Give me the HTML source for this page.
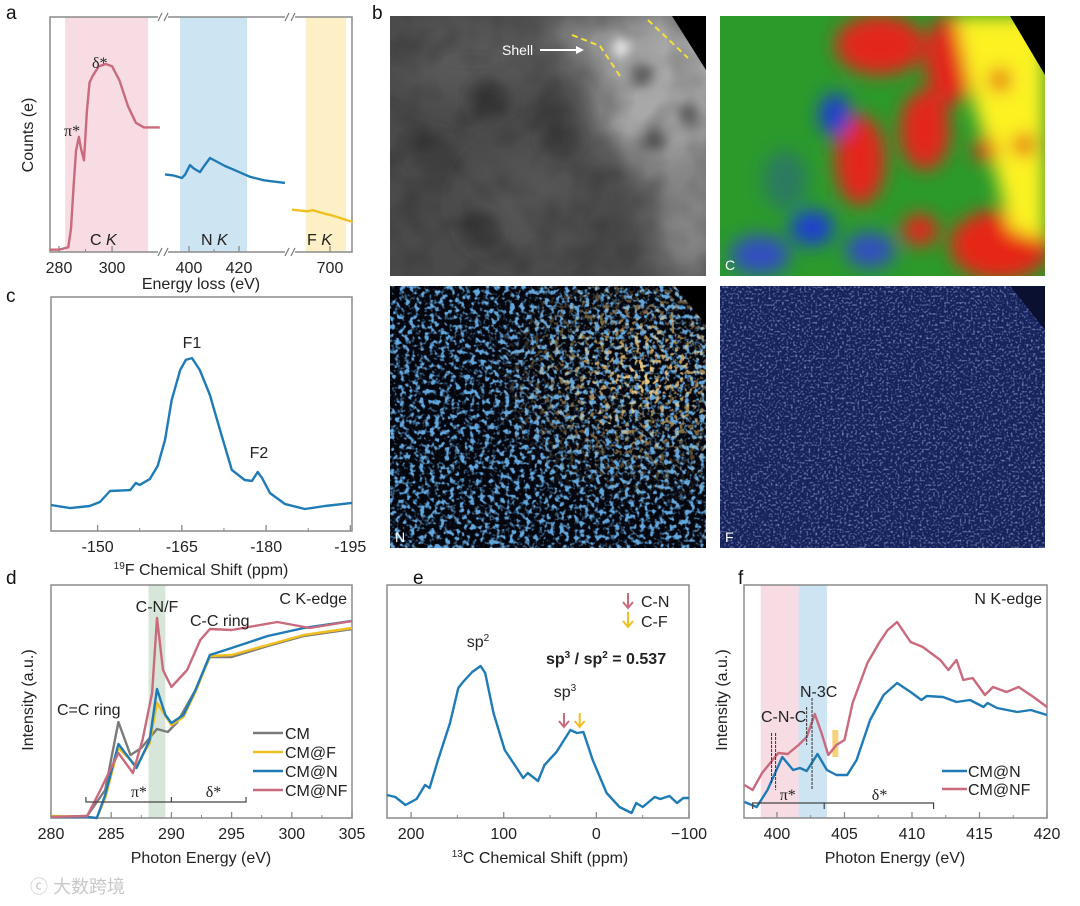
<!DOCTYPE html>
<html><head><meta charset="utf-8">
<style>
html,body{margin:0;padding:0;background:#fff;}
svg{display:block;font-family:"Liberation Sans","Noto Sans CJK SC",sans-serif;}
.t{fill:#222;font-size:16px;}
.pl{fill:#111;font-size:19px;}
</style></head>
<body>
<svg id="fig" width="1080" height="906" viewBox="0 0 1080 906" xmlns="http://www.w3.org/2000/svg">
<defs>
  <filter id="blur6"><feGaussianBlur stdDeviation="6"/></filter>
  <filter id="blur10"><feGaussianBlur stdDeviation="9"/></filter>
  <filter id="blur16"><feGaussianBlur stdDeviation="16"/></filter>
  <filter id="nBlue" x="0" y="0" width="100%" height="100%">
    <feTurbulence type="fractalNoise" baseFrequency="0.2" numOctaves="2" seed="3"/>
    <feColorMatrix type="matrix" values="0 0 0 0 0.12  0 0 0 0 0.38  0 0 0 0 0.72  5 0 0 0 -2.4"/>
  </filter>
  <filter id="nOrange" x="0" y="0" width="100%" height="100%">
    <feTurbulence type="fractalNoise" baseFrequency="0.2" numOctaves="2" seed="9"/>
    <feColorMatrix type="matrix" values="0 0 0 0 0.95  0 0 0 0 0.62  0 0 0 0 0.2  6 0 0 0 -3.1"/>
  </filter>
  <filter id="fNoise" x="0" y="0" width="100%" height="100%">
    <feTurbulence type="fractalNoise" baseFrequency="0.45" numOctaves="1" seed="5"/>
    <feColorMatrix type="matrix" values="0 0 0 0 0.3  0 0 0 0 0.38  0 0 0 0 0.65  3 0 0 0 -1.5"/>
  </filter>
  <filter id="grayNoise" x="0" y="0" width="100%" height="100%">
    <feTurbulence type="fractalNoise" baseFrequency="0.03" numOctaves="2" seed="2"/>
    <feColorMatrix type="matrix" values="0 0 0 0 0  0 0 0 0 0  0 0 0 0 0  1.2 0 0 0 -0.5"/>
  </filter>
  <radialGradient id="orMaskG" cx="0.8" cy="0.35" r="0.5">
    <stop offset="0" stop-color="#fff"/><stop offset="1" stop-color="#000"/>
  </radialGradient>
  <mask id="orMask"><rect x="390" y="286" width="316" height="262" fill="url(#orMaskG)"/></mask>
  <clipPath id="clipTL"><rect x="390" y="16" width="316" height="260"/></clipPath>
  <clipPath id="clipTR"><rect x="720" y="16" width="325" height="260"/></clipPath>
  <clipPath id="clipBL"><rect x="390" y="286" width="316" height="262"/></clipPath>
  <clipPath id="clipBR"><rect x="720" y="286" width="325" height="262"/></clipPath>
</defs>

<text class="pl" x="6" y="19">a</text>
<text class="pl" x="372" y="19">b</text>
<text class="pl" x="6" y="302">c</text>
<text class="pl" x="6" y="584">d</text>
<text class="pl" x="413" y="584">e</text>
<text class="pl" x="738" y="584">f</text>

<g clip-path="url(#clipTL)">
  <rect x="390" y="16" width="316" height="260" fill="#4a4a4a"/>
  <g filter="url(#blur16)">
    <ellipse cx="665" cy="90" rx="70" ry="85" fill="#a8a8a8"/>
    <ellipse cx="690" cy="210" rx="40" ry="70" fill="#858585"/>
    <ellipse cx="600" cy="40" rx="50" ry="30" fill="#959595"/>
    <ellipse cx="470" cy="60" rx="70" ry="40" fill="#585858"/>
    <ellipse cx="530" cy="200" rx="60" ry="50" fill="#555"/>
  </g>
  <g filter="url(#blur6)">
    <circle cx="622" cy="48" r="9" fill="#f4f4f4"/>
    <circle cx="642" cy="75" r="11" fill="#5a5a5a"/>
    <circle cx="690" cy="115" r="10" fill="#5a5a5a"/>
    <circle cx="655" cy="140" r="12" fill="#5d5d5d"/>
    <circle cx="490" cy="100" r="20" fill="#3a3a3a"/>
    <circle cx="430" cy="150" r="20" fill="#3c3c3c"/>
    <circle cx="560" cy="140" r="18" fill="#3d3d3d"/>
    <circle cx="480" cy="230" r="20" fill="#3a3a3a"/>
    <circle cx="610" cy="230" r="16" fill="#444"/>
  </g>
  <rect x="390" y="16" width="316" height="260" filter="url(#grayNoise)" opacity="0.35"/>
  <polygon points="672,16 706,16 706,70" fill="#000"/>
  <polyline points="572,35 600,46 620,76" fill="none" stroke="#f3e03a" stroke-width="2" stroke-dasharray="6,4"/>
  <line x1="648" y1="20" x2="688" y2="58" stroke="#f3e03a" stroke-width="2" stroke-dasharray="6,4"/>
  <text x="502" y="55" fill="#fff" font-size="14">Shell</text>
  <line x1="540" y1="50" x2="578" y2="50" stroke="#fff" stroke-width="2"/>
  <polygon points="584,50 576,46 576,54" fill="#fff"/>
</g>

<g clip-path="url(#clipTR)">
  <rect x="720" y="16" width="325" height="260" fill="#2b9a2b"/>
  <g filter="url(#blur10)">
    <ellipse cx="880" cy="45" rx="45" ry="30" fill="#e3261b"/>
    <ellipse cx="860" cy="160" rx="25" ry="45" fill="#e3261b"/>
    <ellipse cx="925" cy="130" rx="25" ry="40" fill="#e3261b"/>
    <ellipse cx="950" cy="60" rx="25" ry="45" fill="#e3261b"/>
    <ellipse cx="920" cy="230" rx="18" ry="16" fill="#e3261b"/>
    <ellipse cx="1000" cy="245" rx="50" ry="35" fill="#e62516"/>
    <polygon points="955,16 1045,16 1045,240 1010,230 995,170 975,110" fill="#fcf222"/>
    <ellipse cx="1000" cy="80" rx="10" ry="12" fill="#e0301a"/>
    <ellipse cx="1024" cy="145" rx="11" ry="11" fill="#e0301a"/>
    <ellipse cx="985" cy="150" rx="12" ry="12" fill="#e0301a"/>
    <ellipse cx="835" cy="115" rx="16" ry="22" fill="#1e3fd0"/>
    <ellipse cx="812" cy="228" rx="22" ry="18" fill="#1e3fd0"/>
    <ellipse cx="760" cy="255" rx="30" ry="20" fill="#3050c0"/>
    <ellipse cx="870" cy="250" rx="25" ry="18" fill="#3050c0"/>
    <ellipse cx="785" cy="180" rx="22" ry="30" fill="#2a7a60"/>
  </g>
  <polygon points="1010,16 1045,16 1045,75" fill="#000"/>
  <text x="725" y="270" fill="#fff" font-size="14">C</text>
</g>

<g clip-path="url(#clipBL)">
  <rect x="390" y="286" width="316" height="262" fill="#04060e"/>
  <rect x="390" y="286" width="316" height="262" filter="url(#nBlue)"/>
  <rect x="390" y="286" width="316" height="262" filter="url(#nOrange)" mask="url(#orMask)"/>
  <polygon points="675,286 706,286 706,325" fill="#000"/>
  <text x="395" y="542" fill="#fff" font-size="14">N</text>
</g>

<g clip-path="url(#clipBR)">
  <rect x="720" y="286" width="325" height="262" fill="#16225c"/>
  <rect x="720" y="286" width="325" height="262" filter="url(#fNoise)" opacity="0.85"/>
  <polygon points="1010,286 1045,286 1045,330" fill="#0a1030"/>
  <text x="725" y="542" fill="#fff" font-size="14">F</text>
</g>

<g id="charts"></g>

<text class="t" x="64" y="136" font-family="Liberation Serif,serif">π*</text>
<text class="t" x="92" y="68" font-family="Liberation Serif,serif">δ*</text>
<text class="t" x="90" y="245">C <tspan font-style="italic">K</tspan></text>
<text class="t" x="201" y="245">N <tspan font-style="italic">K</tspan></text>
<text class="t" x="307" y="245">F <tspan font-style="italic">K</tspan></text>
<text class="t" x="33" y="135" text-anchor="middle" transform="rotate(-90 33 135)">Counts (e)</text>
<text class="t" x="201" y="289" text-anchor="middle">Energy loss (eV)</text>

<text class="t" x="192" y="348" text-anchor="middle">F1</text>
<text class="t" x="259" y="458" text-anchor="middle">F2</text>
<text class="t" x="201" y="575" text-anchor="middle"><tspan font-size="10" dy="-6">19</tspan><tspan dy="6">F Chemical Shift (ppm)</tspan></text>

<text class="t" x="57" y="715">C=C ring</text>
<text class="t" x="157" y="612" text-anchor="middle">C-N/F</text>
<text class="t" x="190" y="626">C-C ring</text>
<text class="t" x="347" y="604" text-anchor="end">C K-edge</text>
<text class="t" x="33" y="700" text-anchor="middle" transform="rotate(-90 33 700)">Intensity (a.u.)</text>
<text class="t" x="201" y="863" text-anchor="middle">Photon Energy (eV)</text>

<text class="t" x="478" y="647" text-anchor="middle">sp<tspan font-size="10" dy="-6">2</tspan></text>
<text class="t" x="565" y="697" text-anchor="middle">sp<tspan font-size="10" dy="-6">3</tspan></text>
<text class="t" x="546" y="664" font-weight="bold" fill="#222">sp<tspan font-size="10" dy="-6">3</tspan><tspan dy="6"> / sp</tspan><tspan font-size="10" dy="-6">2</tspan><tspan dy="6"> =  0.537</tspan></text>
<text class="t" x="641" y="607">C-N</text>
<text class="t" x="641" y="627">C-F</text>
<text class="t" x="540" y="863" text-anchor="middle"><tspan font-size="10" dy="-6">13</tspan><tspan dy="6">C Chemical Shift (ppm)</tspan></text>

<text class="t" x="761" y="722">C-N-C</text>
<text class="t" x="800" y="697">N-3C</text>
<text class="t" x="1042" y="604" text-anchor="end">N K-edge</text>
<text class="t" x="727" y="700" text-anchor="middle" transform="rotate(-90 727 700)">Intensity (a.u.)</text>
<text class="t" x="895" y="863" text-anchor="middle">Photon Energy (eV)</text>

<text x="30" y="893" font-size="18" fill="#c8c8c8">ⓒ 大数跨境</text>
</svg>

<script>
// panel a
const aCE = [276.6,280,283.5,284.5,285.5,286.4,287.5,288.3,289.4,290.5,291.5,292.7,295,297.6,300,302.8,306,309,312,316,318];
const aCI = [1,1,2,10,28,43,49,44,39,60,72,75,79,80,79,73,62,55,53,53,53];
const aNE = [390.4,394,397.2,398.5,400.4,402,404.4,406,408.4,411,414.4,418,424.4,430,438.4];
const aNI = [33,32.5,31.5,33,37,35.5,34,36.5,40,38.5,36.6,35,32,30.5,29.4];
const aFE = [684.8,688,691,693,695,698,701,704,706,709];
const aFI = [18,17.6,17.3,17.8,17.2,16.3,15.5,14.5,13.8,12.8];
const aTicks1 = [280,300];
const aTicks2 = [400,420];
const aTicks3 = [700];
// panel c
const cPPM = [-141.7,-145.1,-148.6,-150.4,-152.2,-155.8,-156.8,-157.5,-159.3,-160.7,-162.0,-163.2,-164.7,-165.7,-166.8,-168.2,-170.0,-171.8,-173.9,-176.2,-177.5,-178.5,-179.3,-180.7,-183.4,-186.9,-190.5,-195.3];
const cInt = [11.1,9.8,10.7,12.4,17.1,17.5,20.5,19.7,22.2,27.8,38.9,56,68.8,73.1,73.9,68.8,58.1,43.2,26.1,21.8,21.4,25.2,22.6,16.2,11.5,9.4,10.7,12];
const cTicks = [-150,-165,-180,-195];
// panel d
const dE_NF = [280,283,284.1,285.6,286.8,287.6,288.4,288.8,289.3,290,291.3,292.4,293.2,295,298.8,301.5,305];
const dI_NF = [1,2,28,65,45,78,125,200,148,131,148,178,189,188,196,190,197];
const dE_N = [280,283,283.8,284.5,285.6,287.1,288.2,288.8,289.5,290,291,292,293.2,295,298,301,305];
const dI_N = [1,1,0,23,74,50,78,129,103,95,103,128,163,170,182,190,197];
const dE_F = [280,283,283.8,284.5,285.6,287.1,288.2,288.8,290,291,292,293.2,295,298,301,305];
const dI_F = [2,1,0,20,70,52,75,115,93,101,126,162,163,173,183,190];
const dE_CM = [280,283,284.5,285.6,286.6,287.5,288.8,289.7,290.5,292,293.2,295,298,301,305];
const dI_CM = [1,2,28,96,63,70,89,86,96,128,161,161,172,182,189];
const dTicks = [280,285,290,295,300,305];
const dLegend = ['CM','CM@F','CM@N','CM@NF'];
// panel e
const ePPM = [226,217,206,194,185,180,171,158,149,144,134,125,120,111,99,86,79,74,63,56,43,28,21,14,4,-11,-25,-38,-43,-50,-63,-69,-79,-87,-94,-100];
const eInt = [23,21,13,19,33,30,58,95,130,136,146,152,145,105,68,50,40,45,37,53,66,88,85,86,58,25,11,5,15,11,21,19,22,15,20,20];
const eTicks = [200,100,0,-100];
// panel f
const fE_NF = [397.6,398.2,398.9,400.1,400.8,401.6,402.2,402.8,403.3,403.8,404.4,405.0,405.6,406.7,407.6,408.2,408.9,409.9,410.8,412.1,412.7,413.3,413.8,414.5,415.4,416.0,417.0,417.9,419.0,420];
const fI_NF = [33,28,45,65,64,73,81,104,85,63,73,78,115,155,176,188,196,176,171,158,148,158,138,140,123,131,126,131,121,111];
const fE_N = [397.6,398.5,399.3,400.4,401.2,401.7,402.2,403.0,403.7,404.4,405.2,405.9,406.9,407.9,408.9,409.9,410.7,411.1,412.3,413.3,414.3,415.3,415.6,416.3,417.8,418.8,420];
const fI_N = [16,11,28,61,48,50,47,64,48,43,43,58,98,123,135,126,118,122,121,116,118,111,115,110,106,108,103];
const fTicks = [400,405,410,415,420];
const fLegend = ['CM@N','CM@NF'];

const NS = 'http://www.w3.org/2000/svg';
const root = document.getElementById('charts');
function mk(tag, attrs, parent){
  const el = document.createElementNS(NS, tag);
  for (const k in attrs) el.setAttribute(k, attrs[k]);
  (parent||root).appendChild(el);
  return el;
}
function lin(d0,d1,r0,r1){ return v => r0 + (v-d0)/(d1-d0)*(r1-r0); }
function curve(xs, ys, sx, sy, color, name){
  const pts = xs.map((x,i)=> sx(x).toFixed(1)+','+sy(ys[i]).toFixed(1)).join(' ');
  const el = mk('polyline',{points:pts, fill:'none', stroke:color, 'stroke-width':2.4, 'stroke-linejoin':'round'});
  
  
  return el;
}
function frame(b, name){
  const el = mk('rect',{x:b.x,y:b.y,width:b.w,height:b.h,fill:'none',stroke:'#8a8a8a','stroke-width':1.5});
  
  
}
function ticks(vals, sx, b, name, minorStep){
  vals.forEach(v=>{
    const x = sx(v);
    mk('line',{x1:x,x2:x,y1:b.y+b.h,y2:b.y+b.h-6,stroke:'#8a8a8a','stroke-width':1.3});
    const t = mk('text',{x:x,y:b.y+b.h+21,'text-anchor':'middle',class:'t','font-size':'16'});
    t.textContent = (v<0 && name==='e') ? '\u2212'+Math.abs(v) : String(v);
    
    
  });
  if (minorStep){
    for (let i=0;i<vals.length-1;i++){
      const m = sx((vals[i]+vals[i+1])/2);
      mk('line',{x1:m,x2:m,y1:b.y+b.h,y2:b.y+b.h-3,stroke:'#8a8a8a','stroke-width':1});
    }
  }
}
const BLUE='#1f7bb6', PINK='#c96a7d', YEL='#f0c020', GRAY='#7a7a7a';

// PANEL A
const A = {x:50,y:17,w:302,h:235};
const aY = lin(0,100,A.y+A.h,A.y);
const aX1 = lin(276.6,319.2,50,163), aX2 = lin(389.6,440.4,163,290), aX3 = lin(684,708.8,290,352);
let sh;
sh = mk('rect',{x:aX1(282.3),y:A.y,width:aX1(313.6)-aX1(282.3),height:A.h,fill:'#f7dde3'});

sh = mk('rect',{x:aX2(396.4),y:A.y,width:aX2(423.2)-aX2(396.4),height:A.h,fill:'#cde4f2'});

sh = mk('rect',{x:aX3(690.4),y:A.y,width:aX3(706.4)-aX3(690.4),height:A.h,fill:'#fdf0c6'});

frame(A,'plot-frame-a');
ticks(aTicks1,aX1,A,'a',true); ticks(aTicks2,aX2,A,'a',true); ticks(aTicks3,aX3,A,'a',false);
[163,290].forEach(x=>{
  [A.y, A.y+A.h].forEach(y=>{
    mk('rect',{x:x-5,y:y-4,width:10,height:8,fill:'#fff'});
    mk('line',{x1:x-5,y1:y+4,x2:x-1,y2:y-4,stroke:'#777','stroke-width':1.2});
    mk('line',{x1:x+1,y1:y+4,x2:x+5,y2:y-4,stroke:'#777','stroke-width':1.2});
  });
});
curve(aCE,aCI,aX1,aY,PINK,'c-k-spectrum');
curve(aNE,aNI,aX2,aY,BLUE,'n-k-spectrum');
curve(aFE,aFI,aX3,aY,YEL,'f-k-spectrum');

// PANEL C
const C = {x:51,y:297,w:301,h:234};
const cX = lin(-141.7,-195.3,51,352), cY = lin(0,100,C.y+C.h,C.y);
frame(C,'plot-frame-c');
ticks(cTicks,cX,C,'c',true);
curve(cPPM,cInt,cX,cY,BLUE,'f19-nmr-spectrum');

// PANEL D
const D = {x:51,y:585,w:301,h:233};
const dX = lin(280,305,51,352), dY = lin(0,233,D.y+D.h,D.y);
sh = mk('rect',{x:dX(288.1),y:D.y,width:dX(289.5)-dX(288.1),height:D.h,fill:'#d8e6da'});

frame(D,'plot-frame-d');
ticks(dTicks,dX,D,'d',true);
curve(dE_CM,dI_CM,dX,dY,GRAY,'series-cm');
curve(dE_F,dI_F,dX,dY,YEL,'series-cm-f');
curve(dE_N,dI_N,dX,dY,BLUE,'series-cm-n');
curve(dE_NF,dI_NF,dX,dY,PINK,'series-cm-nf');
mk('polyline',{points:`${dX(282.9)},797 ${dX(282.9)},802 ${dX(296.2)},802 ${dX(296.2)},797`,fill:'none',stroke:'#444','stroke-width':1.2});
mk('line',{x1:dX(290),x2:dX(290),y1:797,y2:802,stroke:'#444','stroke-width':1.2});
let tx;
tx = mk('text',{x:dX(287.3),y:797,'text-anchor':'middle',class:'t','font-family':'Liberation Serif,serif'}); tx.textContent='π*';

tx = mk('text',{x:dX(293.5),y:797,'text-anchor':'middle',class:'t','font-family':'Liberation Serif,serif'}); tx.textContent='δ*';

[GRAY,YEL,BLUE,PINK].forEach((c,i)=>{
  const y = 733 + i*19;
  const ln = mk('line',{x1:253,x2:283,y1:y,y2:y,stroke:c,'stroke-width':2.4});
  
  const t = mk('text',{x:285,y:y+6,class:'t'}); t.textContent = dLegend[i];
  
  
});

// PANEL E
const E = {x:387,y:585,w:302,h:233};
const eX = lin(226,-100,387,689), eY = lin(0,233,E.y+E.h,E.y);
frame(E,'plot-frame-e');
ticks(eTicks,eX,E,'e',true);
curve(ePPM,eInt,eX,eY,BLUE,'c13-nmr-spectrum');
function arrow(x,y1,y2,c,name){
  const g = mk('g',{});
  
  mk('line',{x1:x,x2:x,y1:y1,y2:y2,stroke:c,'stroke-width':2},g);
  mk('polyline',{points:`${x-5},${y2-6} ${x},${y2} ${x+5},${y2-6}`,fill:'none',stroke:c,'stroke-width':2},g);
}
arrow(eX(35),713,727,PINK,'cn-arrow');
arrow(eX(18),713,727,YEL,'cf-arrow');
arrow(628,593,608,PINK,'legend-arrow-cn');
arrow(628,612,627,YEL,'legend-arrow-cf');

// PANEL F
const F = {x:744,y:585,w:303,h:233};
const fX = lin(397.56,420,744,1047), fY = lin(0,233,F.y+F.h,F.y);
sh = mk('rect',{x:fX(398.8),y:F.y,width:fX(401.6)-fX(398.8),height:F.h,fill:'#f7dde3'});

sh = mk('rect',{x:fX(401.6),y:F.y,width:fX(403.7)-fX(401.6),height:F.h,fill:'#cde4f2'});

sh = mk('rect',{x:fX(404.1),y:730,width:6,height:27,fill:'#f8d27a'});

frame(F,'plot-frame-f');
ticks(fTicks,fX,F,'f',true);
curve(fE_NF,fI_NF,fX,fY,PINK,'series-cm-nf-f');
curve(fE_N,fI_N,fX,fY,BLUE,'series-cm-n-f');
[[399.6,733,783],[399.9,733,790],[402.2,707,745],[402.6,698,790]].forEach(v=>{
  const l = mk('line',{x1:fX(v[0]),x2:fX(v[0]),y1:v[1],y2:v[2],stroke:'#333','stroke-width':1,'stroke-dasharray':'3,1'});
  
});
mk('polyline',{points:`${fX(398.2)},809 ${fX(398.2)},803 ${fX(411.6)},803 ${fX(411.6)},809`,fill:'none',stroke:'#444','stroke-width':1.2});
mk('line',{x1:fX(403.5),x2:fX(403.5),y1:803,y2:809,stroke:'#444','stroke-width':1.2});
tx = mk('text',{x:fX(400.8),y:800,'text-anchor':'middle',class:'t','font-family':'Liberation Serif,serif'}); tx.textContent='π*';

tx = mk('text',{x:fX(407.6),y:800,'text-anchor':'middle',class:'t','font-family':'Liberation Serif,serif'}); tx.textContent='δ*';

[BLUE,PINK].forEach((c,i)=>{
  const y = 771 + i*18;
  const ln = mk('line',{x1:942,x2:967,y1:y,y2:y,stroke:c,'stroke-width':2.4});
  
  const t = mk('text',{x:968,y:y+6,class:'t'}); t.textContent = fLegend[i];
  
  
});
</script>
</body></html>
